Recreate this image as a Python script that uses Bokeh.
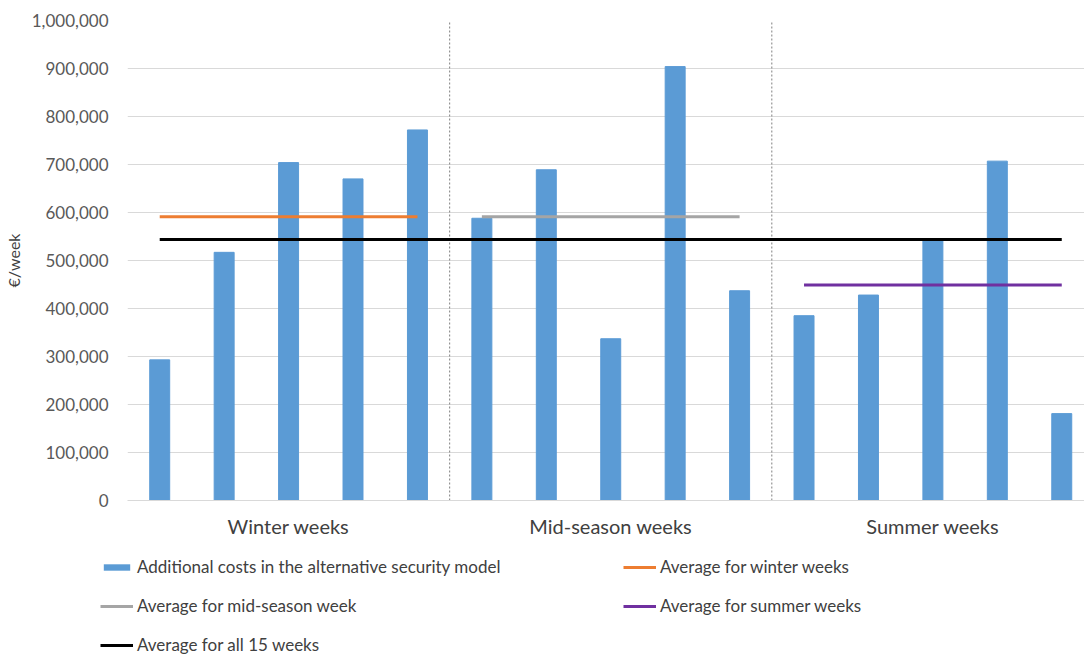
from bokeh.plotting import figure
from bokeh.models import (Range1d, Legend, LegendItem, FixedTicker,
                          NumeralTickFormatter)
from bokeh.embed import file_html
from bokeh.resources import INLINE

# ---- data ----
groups = ["Winter weeks", "Mid-season weeks", "Summer weeks"]
winter = [293000, 517000, 704000, 670000, 772000]
mid_season = [588000, 689000, 337000, 904000, 437000]
summer = [385000, 428000, 545000, 707000, 181000]
series_names = [
    "Additional costs in the alternative security model",
    "Average for winter weeks",
    "Average for mid-season week",
    "Average for summer weeks",
    "Average for all 15 weeks",
]
y_ticks = [0, 100000, 200000, 300000, 400000, 500000,
           600000, 700000, 800000, 900000, 1000000]

FONT = "Lato"
BAR_COLOR = "#5B9BD5"
avg_colors = ["#ED7D31", "#A5A5A5", "#7030A0"]
ALL_COLOR = "black"

group_values = [winter, mid_season, summer]
values = winter + mid_season + summer
xs = list(range(len(values)))

p = figure(width=1084, height=540,
           x_range=Range1d(-0.5, 14.353), y_range=Range1d(0, 1000000),
           output_backend="svg", toolbar_location=None,
           min_border_left=126, min_border_right=0,
           min_border_top=20, min_border_bottom=40)
p.outline_line_color = None

# bars
p.vbar(x=xs, top=values, width=0.31, fill_color=BAR_COLOR, line_color=BAR_COLOR)

# group separators and averages
start = 0
seps = []
centers = []
for vals, col in zip(group_values, avg_colors):
    end = start + len(vals) - 1
    m = sum(vals) / len(vals)
    p.line(x=[start, end], y=[m, m], line_color=col, line_width=3)
    centers.append((start + end) / 2)
    if end < len(values) - 1:
        seps.append(end + 0.5)
    start = end + 1

p.segment(x0=seps, x1=seps, y0=[0] * len(seps), y1=[1000000] * len(seps),
          line_color="#7f7f7f", line_width=1, line_dash="2 2")

overall = sum(values) / len(values)
p.line(x=[0, len(values) - 1], y=[overall, overall],
       line_color=ALL_COLOR, line_width=3)

# axes
p.xgrid.grid_line_color = None
p.ygrid.grid_line_color = "#d9d9d9"
p.ygrid.ticker = FixedTicker(ticks=y_ticks)

ya = p.yaxis[0]
ya.ticker = FixedTicker(ticks=y_ticks)
ya.formatter = NumeralTickFormatter(format="0,0")
ya.axis_line_color = None
ya.major_tick_line_color = None
ya.minor_tick_line_color = None
ya.major_tick_out = 0
ya.major_tick_in = 0
ya.major_label_standoff = 19
ya.major_label_text_font = FONT
ya.major_label_text_font_size = "17px"
ya.major_label_text_color = "#595959"
ya.axis_label = "€/week"
ya.axis_label_text_font = FONT
ya.axis_label_text_font_size = "16px"
ya.axis_label_text_font_style = "normal"
ya.axis_label_text_color = "#404040"
ya.axis_label_standoff = 6

xa = p.xaxis[0]
xa.ticker = FixedTicker(ticks=centers)
xa.major_label_overrides = {c: g for c, g in zip(centers, groups)}
xa.axis_line_color = "#d9d9d9"
xa.major_tick_line_color = None
xa.minor_tick_line_color = None
xa.major_tick_out = 0
xa.major_tick_in = 0
xa.major_label_standoff = 13
xa.major_label_text_font = FONT
xa.major_label_text_font_size = "20px"
xa.major_label_text_color = "#404040"

# legend in its own strip below the chart (separate root, no frame alignment)
lg = figure(width=1084, height=115, x_axis_type=None, y_axis_type=None,
            output_backend="svg", toolbar_location=None,
            min_border_left=0, min_border_right=0, min_border_top=0,
            min_border_bottom=0, x_range=Range1d(0, 1), y_range=Range1d(0, 1))
lg.outline_line_color = None
lg.xgrid.visible = False
lg.ygrid.visible = False
# legend-only renderers: one empty-sized point each, outside the visible range
r_bar = lg.vbar(x=[-5], top=[0], width=0.3, fill_color=BAR_COLOR, line_color=None)
r_w = lg.line(x=[-5], y=[0], line_color=avg_colors[0], line_width=3)
r_m = lg.line(x=[-5], y=[0], line_color=avg_colors[1], line_width=3)
r_s = lg.line(x=[-5], y=[0], line_color=avg_colors[2], line_width=3)
r_a = lg.line(x=[-5], y=[0], line_color=ALL_COLOR, line_width=3)
renderers = [r_bar, r_w, r_m, r_s, r_a]
items = [LegendItem(label=n, renderers=[r]) for n, r in zip(series_names, renderers)]
# Bokeh fills legend columns first; reorder so rows read as in the reference
order = [0, 2, 4, 1, 3]
legend = Legend(items=[items[i] for i in order], ncols=2, location=(100, 0),
                glyph_width=33, glyph_height=8, label_standoff=4,
                label_width=468, label_height=20, spacing=18, padding=0,
                margin=0, border_line_color=None, background_fill_alpha=0,
                label_text_font=FONT, label_text_font_size="17px",
                label_text_color="#404040")
lg.add_layout(legend, "center")

open("out.html", "w").write(file_html([p, lg], INLINE))
